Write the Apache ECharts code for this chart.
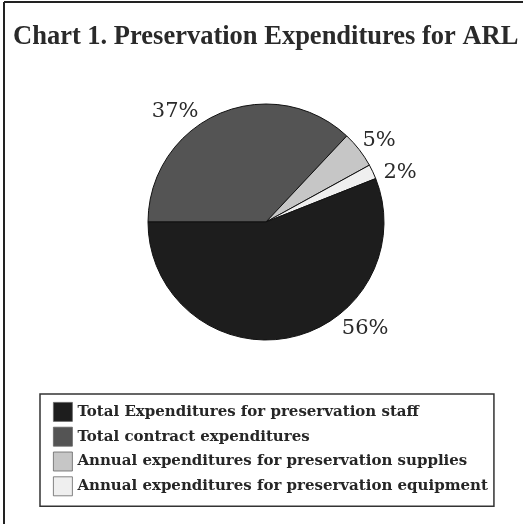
<!DOCTYPE html>
<html><head><meta charset="utf-8">
<script src="https://cdn.jsdelivr.net/npm/echarts@6/dist/echarts.min.js"></script>
<style>html,body{margin:0;padding:0;background:#fff}#c{width:523px;height:524px}</style>
</head><body><div id="c"></div>
<script>
const titleText = 'Chart 1. Preservation Expenditures for ARL';
const categories = [
  'Total Expenditures for preservation staff',
  'Total contract expenditures',
  'Annual expenditures for preservation supplies',
  'Annual expenditures for preservation equipment'
];
const values = [56, 37, 5, 2];
const colors = ['#1d1d1d', '#545454', '#c6c6c6', '#efefef'];
// drawing order (clockwise from the left horizontal)
const drawOrder = [1, 2, 3, 0];
// small nudges of the percentage labels away from the default outside spot
const labelNudge = [[53, -13], [-19, 2], [0, -7], [7, 2]];

const chart = echarts.init(document.getElementById('c'), null, {renderer: 'canvas'});
const font = 'Liberation Serif';
const font2 = 'DejaVu Serif';
chart.setOption({
  animation: false,
  title: {
    text: titleText, left: 8, top: 19,
    textStyle: {fontFamily: font, fontWeight: 'bold', fontSize: 26.5, color: '#2a2a2a'}
  },
  graphic: [
    {type: 'line', shape: {x1: 4, y1: 2, x2: 523, y2: 2}, style: {stroke: '#222', lineWidth: 2}},
    {type: 'line', shape: {x1: 4, y1: 2, x2: 4, y2: 524}, style: {stroke: '#222', lineWidth: 2}}
  ],
  legend: {
    orient: 'vertical', left: 40, top: 394,
    data: categories,
    itemWidth: 19, itemHeight: 19, itemGap: 5,
    padding: [8, 6, 10, 13],
    borderColor: '#333', borderWidth: 1.5,
    icon: 'rect',
    itemStyle: {borderColor: '#666', borderWidth: 0.8},
    textStyle: {fontFamily: font2, fontWeight: 'bold', fontSize: 15, color: '#262626'}
  },
  series: [{
    type: 'pie',
    center: [266, 222], radius: 118,
    startAngle: 180, clockwise: true,
    avoidLabelOverlap: false,
    itemStyle: {borderColor: '#111', borderWidth: 1},
    label: {
      show: true, position: 'outside', formatter: '{c}%',
      fontFamily: font2, fontSize: 21, color: '#2a2a2a', distanceToLabelLine: 0
    },
    labelLine: {show: false, length: 4, length2: 0},
    data: drawOrder.map(i => ({
      name: categories[i], value: values[i], itemStyle: {color: colors[i]},
      label: {offset: labelNudge[i]}
    }))
  }]
});
</script></body></html>
